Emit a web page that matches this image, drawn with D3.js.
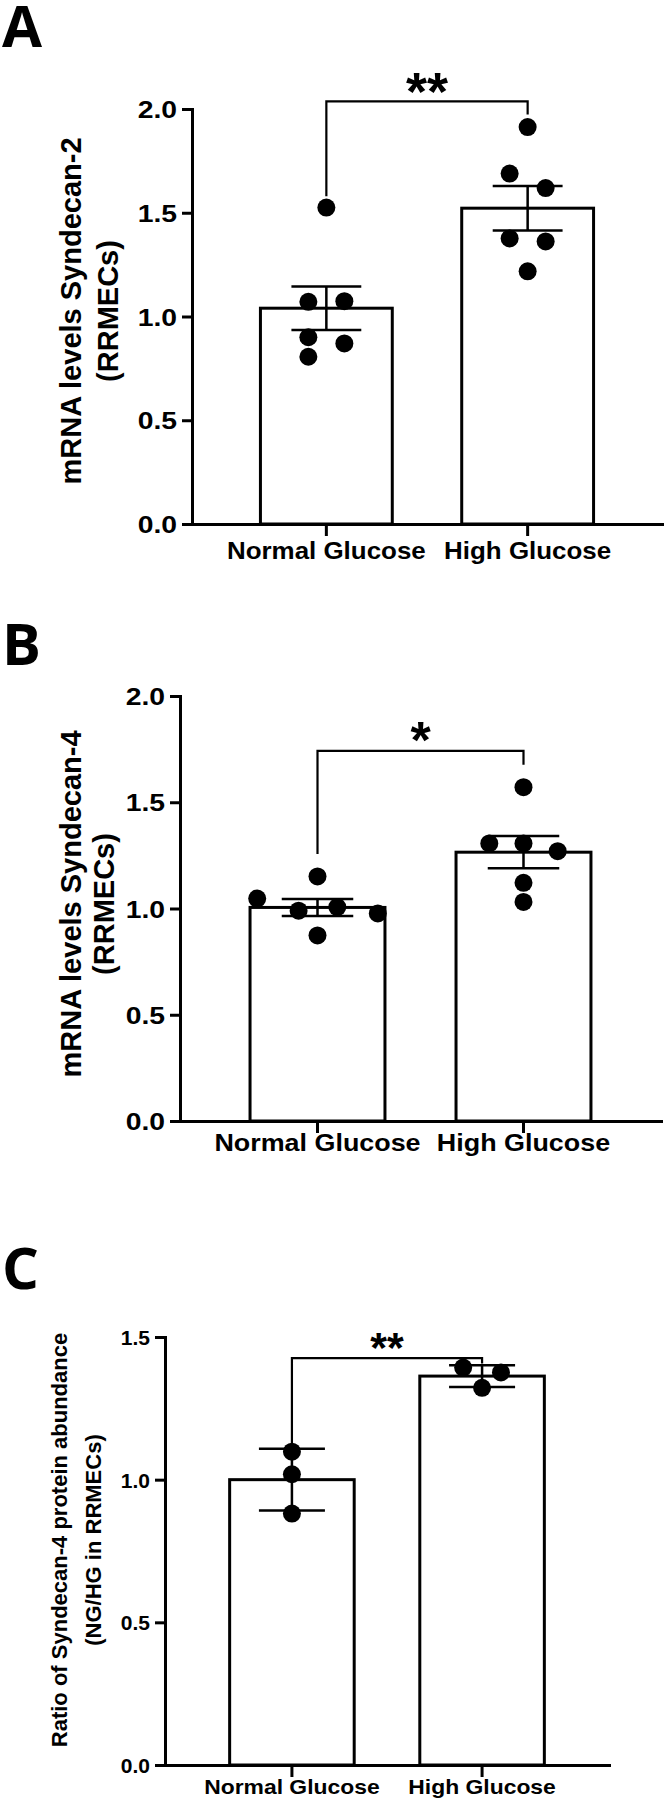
<!DOCTYPE html>
<html>
<head>
<meta charset="utf-8">
<script src="https://d3js.org/d3.v7.min.js"></script>
<style>
  body { margin: 0; background: #fff; }
  text { font-family: "Liberation Sans", Arial, sans-serif; font-weight: bold; fill: #000; }
  .letter { font-family: "Open Sans", sans-serif; font-weight: 700; }
</style>
</head>
<body>
<script>
// categories shared by all three panels
var cats = ["Normal Glucose", "High Glucose"];

// panel A - mRNA Syndecan-2
var aNormal = [1.525, 1.071, 1.074, 0.90, 0.87, 0.806];
var aHigh   = [1.913, 1.689, 1.619, 1.376, 1.362, 1.218];
var aMeans  = [1.04, 1.522];
var aSems   = [0.105, 0.107];
// horizontal spread of the dots, in dot radii
var aSpreadN = [0, -2, 2, -2, 2, -2];
var aSpreadH = [0, -2, 2, -2, 2, 0];

// panel B - mRNA Syndecan-4
var bNormal = [1.047, 1.151, 0.99, 1.007, 0.977, 0.873];
var bHigh   = [1.571, 1.306, 1.306, 1.27, 1.121, 1.031];
var bMeans  = [1.005, 1.265];
var bSems   = [0.04, 0.076];
var bSpreadN = [-6.7, 0, -2.1, 2.2, 6.7, 0];
var bSpreadH = [0, -3.8, 0, 3.8, 0, 0];

// panel C - protein ratio
var cNormal = [1.098, 1.019, 0.881];
var cHigh   = [1.393, 1.376, 1.322];
var cMeans  = [1.0, 1.363];
var cSems   = [0.108, 0.038];
var cSpreadN = [0, 0, 0];
var cSpreadH = [-2.1, 2.1, 0];

// significance brackets: [bracket level, left foot, right foot]
var aSig = [2.037, 1.58, 1.973], aStars = "**";
var bSig = [1.742, 1.256, 1.676], bStars = "*";
var cSig = [1.426, 1.10, 1.407], cStars = "**";

var ticks2 = [0, 0.5, 1.0, 1.5, 2.0];
var ticks15 = [0, 0.5, 1.0, 1.5];

var width = 669, height = 1800;
var svg = d3.select("body").append("svg")
  .attr("width", width).attr("height", height);
svg.append("rect").attr("width", width).attr("height", height).attr("fill", "#fff");

// stretch text a bit horizontally, the figure was scaled wider than tall
function stretch(sel, k) {
  sel.each(function() {
    var w = this.getComputedTextLength();
    d3.select(this).attr("textLength", w * k).attr("lengthAdjust", "spacingAndGlyphs");
  });
}

var panels = [
  { letter: "A", letterY: 47, x0: 192, x1: 662, y0: 524, y1: 109, yMax: 2, ticks: ticks2,
    normal: aNormal, high: aHigh, means: aMeans, sems: aSems, spreadN: aSpreadN, spreadH: aSpreadH,
    sig: aSig, stars: aStars, starSize: 54, starDy: -3,
    tickFont: 24, tickStretch: 1.18, catFont: 24, catStretch: 1.08, catDy: 35,
    label: ["mRNA levels Syndecan-2", "(RRMECs)"], labelFont: 29, labelX: [81, 118], labelY: 311 },
  { letter: "B", letterY: 665, x0: 180, x1: 661, y0: 1121, y1: 696, yMax: 2, ticks: ticks2,
    normal: bNormal, high: bHigh, means: bMeans, sems: bSems, spreadN: bSpreadN, spreadH: bSpreadH,
    sig: bSig, stars: bStars, starSize: 52, starDy: -4,
    tickFont: 24, tickStretch: 1.18, catFont: 24, catStretch: 1.12, catDy: 30,
    label: ["mRNA levels Syndecan-4", "(RRMECs)"], labelFont: 29, labelX: [81, 114], labelY: 904 },
  { letter: "C", letterY: 1289, x0: 165, x1: 609, y0: 1765, y1: 1337, yMax: 1.5, ticks: ticks15,
    normal: cNormal, high: cHigh, means: cMeans, sems: cSems, spreadN: cSpreadN, spreadH: cSpreadH,
    sig: cSig, stars: cStars, starSize: 43, starDy: -6,
    tickFont: 21, tickStretch: 1.0, catFont: 21, catStretch: 1.09, catDy: 29,
    label: ["Ratio of Syndecan-4 protein abundance", "(NG/HG in RRMECs)"], labelFont: 22, labelX: [67, 101], labelY: 1540 }
];

panels.forEach(function(p) {
  var y = d3.scaleLinear().domain([0, p.yMax]).range([p.y0, p.y1]);
  var x = d3.scaleBand().domain(cats).range([p.x0, p.x1])
    .paddingInner(0.345).paddingOuter(0.34);
  var bw = x.bandwidth();
  var r = 9;
  var g = svg.append("g");

  svg.append("text").attr("class", "letter")
    .attr("x", 2).attr("y", p.letterY)
    .style("font-size", "58px").text(p.letter);

  // bars
  g.selectAll("rect.bar").data(cats).enter().append("rect")
    .attr("class", "bar")
    .attr("x", function(d) { return x(d); })
    .attr("y", function(d, i) { return y(p.means[i]); })
    .attr("width", bw)
    .attr("height", function(d, i) { return y(0) - y(p.means[i]); })
    .attr("fill", "#fff").attr("stroke", "#000").attr("stroke-width", 3);

  // axes
  var yAxis = g.append("g").attr("transform", "translate(" + p.x0 + ",0)")
    .call(d3.axisLeft(y).tickValues(p.ticks).tickFormat(d3.format(".1f"))
      .tickSize(10).tickSizeOuter(0).tickPadding(5));
  var xAxis = g.append("g").attr("transform", "translate(0," + p.y0 + ")")
    .call(d3.axisBottom(x).tickSize(12).tickSizeOuter(0).tickFormat(""));
  [yAxis, xAxis].forEach(function(ax) {
    ax.select(".domain").attr("stroke", "#000").attr("stroke-width", 3).attr("stroke-linecap", "square");
    ax.selectAll(".tick line").attr("stroke", "#000").attr("stroke-width", 3);
  });
  yAxis.selectAll(".tick text")
    .attr("fill", "#000").attr("dy", "0.36em")
    .style("font-size", p.tickFont + "px")
    .style("font-family", "'Liberation Sans', Arial, sans-serif");
  stretch(yAxis.selectAll(".tick text"), p.tickStretch);

  // category labels
  var cl = g.selectAll("text.cat").data(cats).enter().append("text")
    .attr("class", "cat")
    .attr("x", function(d) { return x(d) + bw / 2; })
    .attr("y", p.y0 + p.catDy)
    .attr("text-anchor", "middle")
    .style("font-size", p.catFont + "px")
    .text(function(d) { return d; });
  stretch(cl, p.catStretch);

  // error bars
  var cap = bw * 0.265;
  cats.forEach(function(c, i) {
    var cx = x(c) + bw / 2;
    var lo = y(p.means[i] - p.sems[i]), hi = y(p.means[i] + p.sems[i]);
    g.append("path")
      .attr("d", "M" + cx + "," + lo + "V" + hi +
        "M" + (cx - cap) + "," + hi + "H" + (cx + cap) +
        "M" + (cx - cap) + "," + lo + "H" + (cx + cap))
      .attr("fill", "none").attr("stroke", "#000").attr("stroke-width", 2.5);
  });

  // dots
  var pts = [];
  p.normal.forEach(function(v, i) { pts.push({ c: cats[0], v: v, s: p.spreadN[i] }); });
  p.high.forEach(function(v, i) { pts.push({ c: cats[1], v: v, s: p.spreadH[i] }); });
  g.selectAll("circle").data(pts).enter().append("circle")
    .attr("cx", function(d) { return x(d.c) + bw / 2 + d.s * r; })
    .attr("cy", function(d) { return y(d.v); })
    .attr("r", r).attr("fill", "#000");

  // significance bracket
  var xl = x(cats[0]) + bw / 2, xr = x(cats[1]) + bw / 2;
  g.append("path")
    .attr("d", "M" + xl + "," + y(p.sig[1]) + "V" + y(p.sig[0]) + "H" + xr + "V" + y(p.sig[2]))
    .attr("fill", "none").attr("stroke", "#000").attr("stroke-width", 2.2);
  g.append("text")
    .attr("x", (xl + xr) / 2)
    .attr("y", y(p.sig[0]) + p.starSize * 0.22 + p.starDy)
    .attr("text-anchor", "middle")
    .style("font-size", p.starSize + "px")
    .text(p.stars);

  // y label, two lines
  p.label.forEach(function(t, i) {
    svg.append("text")
      .attr("transform", "translate(" + p.labelX[i] + "," + p.labelY + ") rotate(-90)")
      .attr("text-anchor", "middle")
      .style("font-size", p.labelFont + "px")
      .text(t);
  });
});
</script>
</body>
</html>
